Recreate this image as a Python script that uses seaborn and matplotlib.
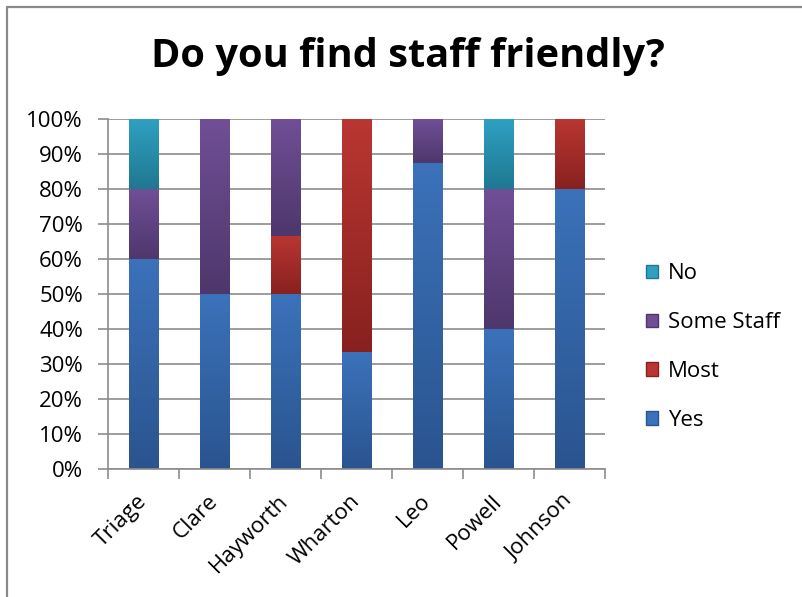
import numpy as np
import pandas as pd
import matplotlib
matplotlib.use("Agg")
import matplotlib.pyplot as plt
import seaborn as sns
from matplotlib.colors import LinearSegmentedColormap
from matplotlib.patches import Patch
from matplotlib.lines import Line2D
from matplotlib.ticker import PercentFormatter, MultipleLocator

# Survey answers per ward (share of respondents)
wards = ["Triage", "Clare", "Hayworth", "Wharton", "Leo", "Powell", "Johnson"]
yes = [0.60, 0.50, 0.50, 1 / 3, 0.875, 0.40, 0.80]
most = [0.00, 0.00, 1 / 6, 2 / 3, 0.00, 0.00, 0.20]
some_staff = [0.20, 0.50, 1 / 3, 0.00, 0.125, 0.40, 0.00]
no = [0.20, 0.00, 0.00, 0.00, 0.00, 0.20, 0.00]

series_names = ["Yes", "Most", "Some Staff", "No"]
series_values = [yes, most, some_staff, no]
# (top colour, bottom colour) for each answer's gradient fill
series_colors = [("#3B72BA", "#2A548F"),
                 ("#BA3632", "#87211F"),
                 ("#704F96", "#4E376C"),
                 ("#2FA0C2", "#1F7891")]

sns.set_theme(style="white")
plt.rcParams["font.family"] = ["Open Sans", "DejaVu Sans"]
plt.rcParams["text.color"] = "black"

fig = plt.figure(figsize=(8.02, 5.97), dpi=100)
ax = fig.add_axes([108 / 802, 1 - 469 / 597, 497 / 802, 350 / 597])

df = pd.DataFrame({"ward": wards})
cum = np.zeros(len(wards))
layers = []
for name, vals in zip(series_names, series_values):
    lower = cum.copy()
    cum = cum + np.array(vals)
    layers.append((name, lower, cum.copy()))

# Draw cumulative layers from the tallest down so each segment shows
for name, lower, upper in reversed(layers):
    df["value"] = upper
    sns.barplot(data=df, x="ward", y="value", ax=ax, color="white",
                width=0.41, saturation=1, zorder=2, edgecolor="none")

# Paint each stacked segment with a vertical gradient
grad = np.linspace(1, 0, 256).reshape(-1, 1)
bar_patches = ax.patches[:]
n = len(wards)
for li, (name, lower, upper) in enumerate(layers):
    top_c, bot_c = series_colors[li]
    cmap = LinearSegmentedColormap.from_list(name, [bot_c, top_c])
    layer_patches = bar_patches[(len(layers) - 1 - li) * n:(len(layers) - li) * n]
    for p, lo, hi in zip(layer_patches, lower, upper):
        if hi - lo <= 1e-9:
            continue
        x0 = p.get_x()
        x1 = x0 + p.get_width()
        ax.imshow(grad, cmap=cmap, extent=(x0, x1, lo, hi), aspect="auto",
                  zorder=3, interpolation="bilinear")
for p in bar_patches:
    p.set_visible(False)

ax.set_xlim(-0.5, n - 0.5)
ax.set_ylim(0, 1)
ax.set_xlabel("")
ax.set_ylabel("")

grid_c = "#8C8C8C"
ax.yaxis.set_major_locator(MultipleLocator(0.1))
ax.yaxis.set_major_formatter(PercentFormatter(1.0, decimals=0))
ax.grid(axis="y", color=grid_c, linewidth=1.2, zorder=1)
ax.set_axisbelow(True)
for s in ["top", "right"]:
    ax.spines[s].set_visible(False)
for s in ["left", "bottom"]:
    ax.spines[s].set_color(grid_c)
    ax.spines[s].set_linewidth(1.2)
    ax.spines[s].set_zorder(4)

ax.tick_params(axis="y", which="major", length=7, width=1.2, color=grid_c,
               labelsize=16, pad=11, left=True, labelcolor="black")
ax.set_xticks(np.arange(-0.5, n, 1.0), minor=True)
ax.tick_params(axis="x", which="minor", length=7, width=1.2, color=grid_c,
               bottom=True, direction="out")
ax.tick_params(axis="x", which="major", length=0, labelsize=16, pad=21,
               labelcolor="black")
for lab in ax.get_xticklabels():
    lab.set_rotation(45)
    lab.set_ha("right")
    lab.set_va("center")
    lab.set_rotation_mode("anchor")

fig.text(408 / 802, 1 - 57 / 597, "Do you find staff friendly?",
         ha="center", va="center", fontsize=28.6, fontweight="bold",
         color="black")

handles = [Patch(facecolor=series_colors[i][0], edgecolor=series_colors[i][1],
                 label=series_names[i]) for i in [3, 2, 1, 0]]
fig.legend(handles=handles, loc="center left",
           bbox_to_anchor=(626 / 802, 1 - 347 / 597), frameon=False,
           fontsize=16, handlelength=0.55, handleheight=0.55,
           handletextpad=0.45, labelspacing=1.25)

# Chart-area frame along the top and left edges
fig.add_artist(Line2D([7 / 802, 7 / 802], [0, 1 - 7 / 597],
                      transform=fig.transFigure, color="#898989", linewidth=1.6))
fig.add_artist(Line2D([7 / 802, 1], [1 - 7 / 597, 1 - 7 / 597],
                      transform=fig.transFigure, color="#898989", linewidth=1.6))

fig.savefig("out.png", dpi=100, facecolor="white")
